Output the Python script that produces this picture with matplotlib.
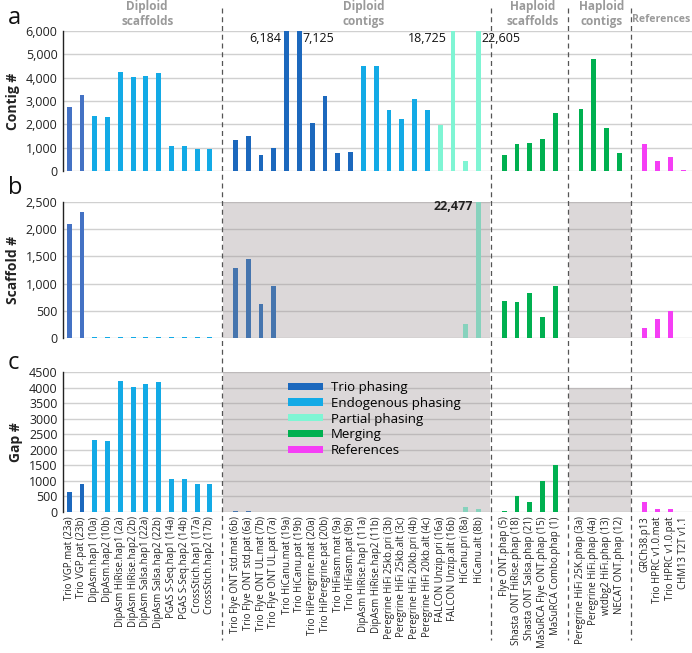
import matplotlib
matplotlib.use("Agg")
import matplotlib.pyplot as plt
from matplotlib.lines import Line2D
from matplotlib.patches import Patch
from matplotlib.ticker import FuncFormatter, MultipleLocator

plt.rcParams['font.family'] = ['Open Sans', 'DejaVu Sans']

# ---------------- data ----------------
groups = ["Diploid\nscaffolds", "Diploid\ncontigs", "Haploid\nscaffolds", "Haploid\ncontigs", "References"]

dip_scaf = ["Trio VGP.mat (23a)", "Trio VGP.pat (23b)", "DipAsm.hap1 (10a)", "DipAsm.hap2 (10b)",
            "DipAsm HiRise.hap1 (2a)", "DipAsm HiRise.hap2 (2b)", "DipAsm Salsa.hap1 (22a)",
            "DipAsm Salsa.hap2 (22b)", "PGAS S-Seq.hap1 (14a)", "PGAS S-Seq.hap2 (14b)",
            "CrossStich.hap1 (17a)", "CrossStich.hap2 (17b)"]
dip_cont = ["Trio Flye ONT std.mat (6b)", "Trio Flye ONT std.pat (6a)", "Trio Flye ONT UL.mat (7b)",
            "Trio Flye ONT UL.pat (7a)", "Trio HiCanu.mat (19a)", "Trio HiCanu.pat (19b)",
            "Trio HiPeregrine.mat (20a)", "Trio HiPeregrine.pat (20b)", "Trio HiFiasm.mat (9a)",
            "Trio HiFiasm.pat (9b)", "DipAsm HiRise.hap1 (11a)", "DipAsm HiRise.hap2 (11b)",
            "Peregrine HiFi 25kb.pri (3b)", "Peregrine HiFi 25kb.alt (3c)", "Peregrine HiFi 20kb.pri (4b)",
            "Peregrine HiFi 20kb.alt (4c)", "FALCON Unzip.pri (16a)", "FALCON Unzip.alt (16b)",
            "HiCanu.pri (8a)", "HiCanu.alt (8b)"]
hap_scaf = ["Flye ONT.phap (5)", "Shasta ONT HiRise.phap (18)", "Shasta ONT Salsa.phap (21)",
            "MaSuRCA Flye ONT.phap (15)", "MaSuRCA Combo.phap (1)"]
hap_cont = ["Peregrine HiFi 25K.phap (3a)", "Peregrine HiFi.phap (4a)", "wtdbg2 HiFi.phap (13)",
            "NECAT ONT.phap (12)"]
refs = ["GRCh38.p13", "Trio HPRC v1.0.mat", "Trio HPRC v1.0.pat", "CHM13 T2T v1.1"]

# phasing class per assembly: T=trio, E=endogenous, P=partial, M=merging, R=reference
cls_dip_scaf = ["T", "T", "E", "E", "E", "E", "E", "E", "E", "E", "E", "E"]
cls_dip_cont = ["T"] * 10 + ["E"] * 6 + ["P"] * 4
cls_hap_scaf = ["M"] * 5
cls_hap_cont = ["M"] * 4
cls_refs = ["R"] * 4

contig_dip_scaf = [2760, 3240, 2360, 2310, 4240, 4040, 4090, 4190, 1070, 1070, 930, 930]
contig_dip_cont = [1330, 1510, 670, 1000, 6184, 7125, 2060, 3210, 760, 830,
                   4490, 4490, 2610, 2210, 3070, 2610, 1970, 18725, 430, 22605]
contig_hap_scaf = [700, 1140, 1190, 1370, 2470]
contig_hap_cont = [2670, 4800, 1860, 790]
contig_refs = [1140, 430, 610, 45]

scaf_dip_scaf = [2100, 2320, 15, 15, 15, 15, 15, 15, 15, 15, 15, 15]
scaf_dip_cont = [1290, 1460, 620, 950, 0, 0, 0, 0, 0, 0,
                 0, 0, 0, 0, 0, 0, 0, 0, 265, 22477]
scaf_hap_scaf = [675, 660, 835, 390, 960]
scaf_hap_cont = [0, 0, 0, 0]
scaf_refs = [185, 355, 500, 8]

gap_dip_scaf = [650, 915, 2330, 2295, 4210, 4005, 4110, 4175, 1045, 1045, 915, 915]
gap_dip_cont = [30, 30, 0, 0, 0, 0, 0, 0, 0, 0,
                0, 0, 0, 0, 0, 0, 0, 0, 170, 90]
gap_hap_scaf = [45, 505, 335, 1010, 1510]
gap_hap_cont = [0, 0, 0, 0]
gap_refs = [335, 85, 85, 5]

legend_labels = ["Trio phasing", "Endogenous phasing", "Partial phasing", "Merging", "References"]

# ---------------- styling ----------------
col = {"T": "#1c68bd", "E": "#13aae6", "P": "#7ff5d4", "M": "#00b050", "R": "#f53ef5"}
col_vgp_a = "#4472c4"
shade_rgba = (0.60, 0.56, 0.57, 0.34)

names_all = [dip_scaf, dip_cont, hap_scaf, hap_cont, refs]
cls_all = [cls_dip_scaf, cls_dip_cont, cls_hap_scaf, cls_hap_cont, cls_refs]

# slot positions with one empty slot between groups
positions, labels, classes, dividers, centers = [], [], [], [], []
s = 0
for gi, (nm, cl) in enumerate(zip(names_all, cls_all)):
    start = s
    for n, c in zip(nm, cl):
        positions.append(s); labels.append(n); classes.append(c); s += 1
    centers.append((start + s - 1) / 2)
    if gi < len(names_all) - 1:
        dividers.append(s)
        s += 1

def concat(*a):
    out = []
    for x in a:
        out += list(x)
    return out

contig = concat(contig_dip_scaf, contig_dip_cont, contig_hap_scaf, contig_hap_cont, contig_refs)
scaf = concat(scaf_dip_scaf, scaf_dip_cont, scaf_hap_scaf, scaf_hap_cont, scaf_refs)
gap = concat(gap_dip_scaf, gap_dip_cont, gap_hap_scaf, gap_hap_cont, gap_refs)

W, H = 692, 653
fig = plt.figure(figsize=(W / 100, H / 100), dpi=100)

def ax_rect(top_px, bot_px, left_px=63, right_px=692):
    return [left_px / W, 1 - bot_px / H, (right_px - left_px) / W, (bot_px - top_px) / H]

axa = fig.add_axes(ax_rect(31, 171))
axb = fig.add_axes(ax_rect(202, 338))
axc = fig.add_axes(ax_rect(372, 512))

xlim = (-0.48, 48.68)
bw = 0.38
comma = FuncFormatter(lambda v, p: f"{int(v):,}")

def style(ax, ymax, step, ylabel, fmt):
    ax.set_xlim(*xlim)
    ax.set_ylim(0, ymax)
    ax.yaxis.set_major_locator(MultipleLocator(step))
    if fmt:
        ax.yaxis.set_major_formatter(comma)
    ax.grid(axis="y", color="#d0d0d0", linewidth=1.0, zorder=0)
    ax.set_axisbelow(True)
    for sp in ["top", "right", "bottom"]:
        ax.spines[sp].set_visible(False)
    ax.spines["left"].set_color("#222222")
    ax.spines["left"].set_linewidth(1.0)
    ax.tick_params(axis="y", length=0, labelsize=9, colors="#222222", pad=4)
    ax.tick_params(axis="x", length=0)
    ax.set_ylabel(ylabel, fontsize=10, fontweight="bold", color="#222222", labelpad=4)

# panel a
cols_a = [col[c] for c in classes]
cols_a[0] = col_vgp_a
cols_a[1] = col_vgp_a
axa.bar(positions, contig, width=bw, color=cols_a, zorder=2)
style(axa, 6000, 1000, "Contig #", True)
axa.set_xticks([])
p = positions
axa.text(p[12 + 4] - 0.45, 5700, "6,184", ha="right", va="center", fontsize=9, color="#111111")
axa.text(p[12 + 5] + 0.2, 5700, "7,125", ha="left", va="center", fontsize=9, color="#111111")
axa.text(p[12 + 17] - 0.45, 5700, "18,725", ha="right", va="center", fontsize=9, color="#111111")
axa.text(p[12 + 19] + 0.2, 5700, "22,605", ha="left", va="center", fontsize=9, color="#111111")

# panel b
cols_b = [col[c] for c in classes]
cols_b[0] = col_vgp_a
cols_b[1] = col_vgp_a
axb.bar(positions, scaf, width=bw, color=cols_b, zorder=2)
style(axb, 2500, 500, "Scaffold #", True)
axb.set_xticks([])
axb.axvspan(dividers[0], dividers[1] - 0.1, ymin=0, ymax=1, color=shade_rgba, zorder=3, lw=0)
axb.axvspan(dividers[2] + 0.05, dividers[3] - 0.1, ymin=0, ymax=1, color=shade_rgba, zorder=3, lw=0)
axb.text(p[12 + 19] - 0.45, 2420, "22,477", ha="right", va="center", fontsize=9,
         fontweight="bold", color="#222222", zorder=5)

# panel c
cols_c = [col[c] for c in classes]
axc.bar(positions, gap, width=bw, color=cols_c, zorder=2)
style(axc, 4500, 500, "Gap #", False)
axc.axvspan(dividers[0], dividers[1] - 0.1, ymin=0, ymax=1, color=shade_rgba, zorder=3, lw=0)
axc.axvspan(dividers[2] + 0.05, dividers[3] - 0.1, ymin=0, ymax=4000 / 4500, color=shade_rgba, zorder=3, lw=0)
axc.set_xticks(positions)
axc.set_xticklabels(labels, rotation=90, fontsize=6.9, color="#222222")
axc.tick_params(axis="x", pad=3)

handles = [Patch(facecolor=col[k], edgecolor="none") for k in ["T", "E", "P", "M", "R"]]
leg = axc.legend(handles, legend_labels, loc="upper left", bbox_to_anchor=(0.35, 0.975),
                 frameon=False, fontsize=9.5, handlelength=2.6, handleheight=0.45,
                 labelspacing=0.22, handletextpad=0.6, borderaxespad=0)
leg.set_zorder(10)

# panel letters
fig.text(8 / W, 1 - 18 / H, "a", fontsize=17, va="center", ha="left", color="#111111")
fig.text(8 / W, 1 - 188 / H, "b", fontsize=17, va="center", ha="left", color="#111111")
fig.text(8 / W, 1 - 363 / H, "c", fontsize=17, va="center", ha="left", color="#111111")

# dividers through whole figure
fig.canvas.draw()
inv = fig.transFigure.inverted()
for d in dividers:
    xf = inv.transform(axa.transData.transform((d - 0.05, 0)))[0]
    fig.add_artist(Line2D([xf, xf], [1 - 8 / H, 1 - 640 / H], transform=fig.transFigure,
                          color="#555555", linestyle=(0, (4, 3)), linewidth=0.9, zorder=20))

# group headers
hdr_x = [6.1, 23.0, 36.2, 41.6, 46.25]
hdr_y = [14, 14, 14, 14, 19]
hdr_fs = [8.5, 8.5, 8.5, 8.5, 7.6]
for g, hx, hy, fs in zip(groups, hdr_x, hdr_y, hdr_fs):
    xf = inv.transform(axa.transData.transform((hx, 0)))[0]
    fig.text(xf, 1 - hy / H, g, ha="center", va="center", fontsize=fs, fontweight="bold",
             color="#9a9a9a", linespacing=1.25)

fig.savefig("out.png", dpi=100)
